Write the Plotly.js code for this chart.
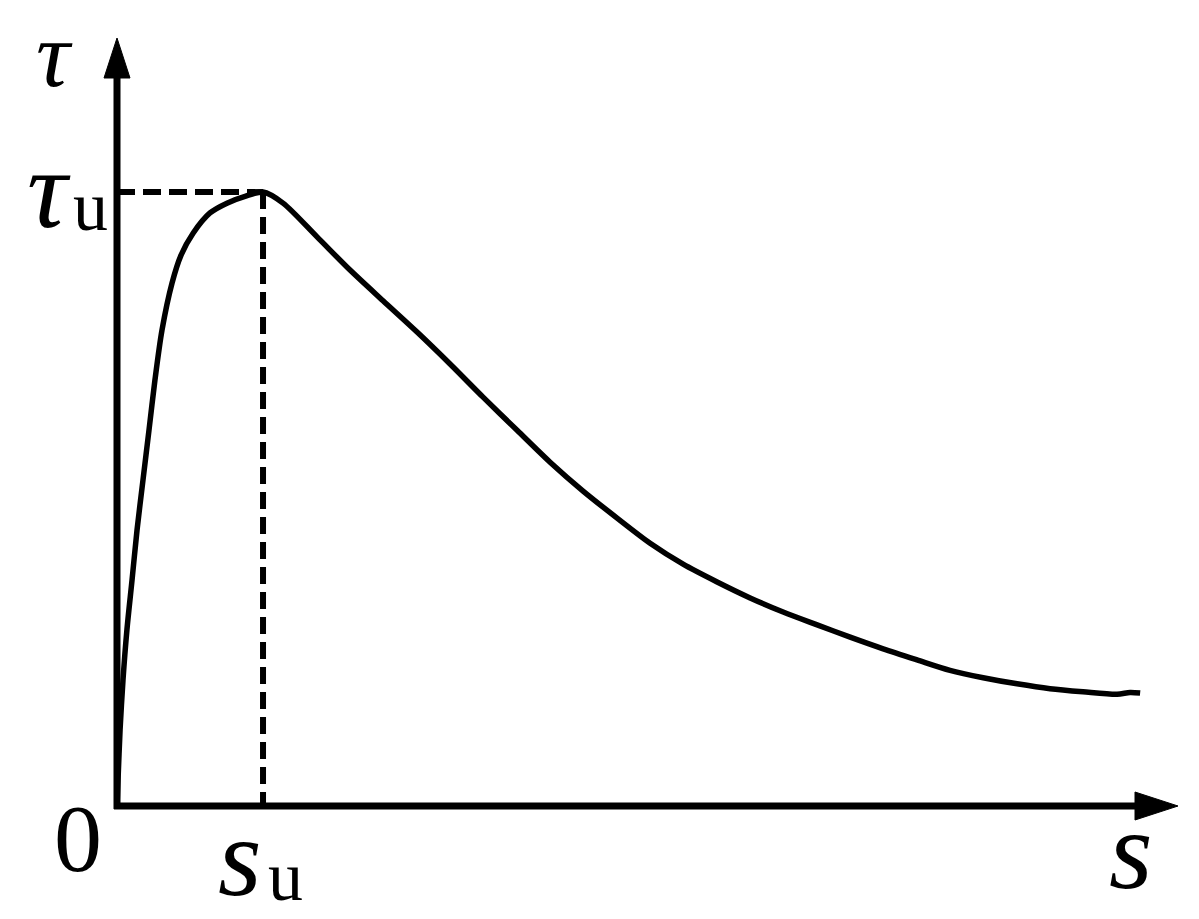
<!DOCTYPE html>
<html>
<head>
<meta charset="utf-8">
<script src="https://cdn.plot.ly/plotly-3.0.1.min.js"></script>
<style>html,body{margin:0;padding:0;background:#fff;}#chart{width:1199px;height:919px;}</style>
</head>
<body>
<div id="chart"></div>
<script>
// Bond-slip curve, normalised: s / s_u and tau / tau_u
const slip = [0, 0.007, 0.021, 0.041, 0.068, 0.103, 0.137, 0.178, 0.219, 0.260, 0.308, 0.377, 0.438, 0.521, 0.637, 0.753, 0.877, 1.0,
  1.137, 1.370, 1.596, 1.822, 2.055, 2.281, 2.507, 2.740, 2.966, 3.192, 3.425, 3.651, 3.877, 4.110, 4.336,
  4.562, 4.795, 5.021, 5.247, 5.479, 5.705, 5.932, 6.164, 6.390, 6.616, 6.849, 6.938, 7.007];
const stress = [0, 0.042, 0.124, 0.205, 0.287, 0.368, 0.449, 0.531, 0.612, 0.694, 0.775, 0.852, 0.897, 0.933, 0.966, 0.982, 0.993, 1.0,
  0.982, 0.927, 0.873, 0.823, 0.772, 0.720, 0.666, 0.612, 0.560, 0.513, 0.469, 0.428, 0.394, 0.365, 0.339,
  0.316, 0.295, 0.275, 0.256, 0.238, 0.221, 0.209, 0.199, 0.191, 0.186, 0.182, 0.185, 0.184];
const peakS = 1.0;     // s_u
const peakTau = 1.0;   // tau_u
const axisMaxS = 7.28;
const axisMaxTau = 1.251;

const W = 1199, H = 919;
const M = {l: 117, r: 19, t: 38, b: 113};
const pw = W - M.l - M.r, ph = H - M.t - M.b;
function px(x) { return (x - M.l) / pw; }
function py(y) { return (H - M.b - y) / ph; }

const serif = '"Liberation Serif", "Times New Roman", Times, serif';

const traces = [
  {x: slip, y: stress, mode: 'lines', line: {color: '#000', width: 5.5, shape: 'spline', smoothing: 0.8}, hoverinfo: 'skip'},
  {x: [0, peakS], y: [peakTau, peakTau], mode: 'lines', line: {color: '#000', width: 6, dash: '18px,8px'}, hoverinfo: 'skip'},
  {x: [peakS, peakS], y: [peakTau, 0], mode: 'lines', line: {color: '#000', width: 6, dash: '17px,8px'}, hoverinfo: 'skip'}
];

function ann(text, cx, cy, size, italic) {
  return {text: italic ? '<i>' + text + '</i>' : text, xref: 'paper', yref: 'paper', x: px(cx), y: py(cy),
    xanchor: 'center', yanchor: 'middle', showarrow: false, font: {family: serif, size: size, color: '#000'}};
}

const layout = {
  width: W, height: H,
  margin: M,
  paper_bgcolor: '#fff', plot_bgcolor: '#fff',
  showlegend: false,
  xaxis: {range: [0, axisMaxS], showgrid: false, zeroline: false, showline: false, showticklabels: false, ticks: '', fixedrange: true},
  yaxis: {range: [0, axisMaxTau], showgrid: false, zeroline: false, showline: false, showticklabels: false, ticks: '', fixedrange: true},
  shapes: [
    // y axis line + arrow
    {type: 'line', xref: 'paper', yref: 'paper', x0: 0, y0: py(809), x1: 0, y1: py(75), line: {color: '#000', width: 7}},
    {type: 'path', xref: 'paper', yref: 'paper',
      path: 'M ' + px(117) + ' ' + py(38) + ' L ' + px(104) + ' ' + py(78) + ' L ' + px(130) + ' ' + py(78) + ' Z',
      fillcolor: '#000', line: {color: '#000', width: 1}},
    // x axis line + arrow
    {type: 'line', xref: 'paper', yref: 'paper', x0: px(114), y0: 0, x1: px(1140), y1: 0, line: {color: '#000', width: 7}},
    {type: 'path', xref: 'paper', yref: 'paper',
      path: 'M ' + px(1178) + ' ' + py(806) + ' L ' + px(1135) + ' ' + py(792) + ' L ' + px(1135) + ' ' + py(820) + ' Z',
      fillcolor: '#000', line: {color: '#000', width: 1}}
  ],
  annotations: [
    ann('τ', 54, 54, 94, true),
    ann('τ', 49, 189, 112, true),
    ann('u', 90, 206, 70, false),
    ann('0', 78, 838, 96, false),
    ann('s', 240, 857, 112, true),
    ann('u', 285, 876, 70, false),
    ann('s', 1131, 850, 112, true)
  ]
};

Plotly.newPlot('chart', traces, layout, {displayModeBar: false, staticPlot: true});
</script>
</body>
</html>
